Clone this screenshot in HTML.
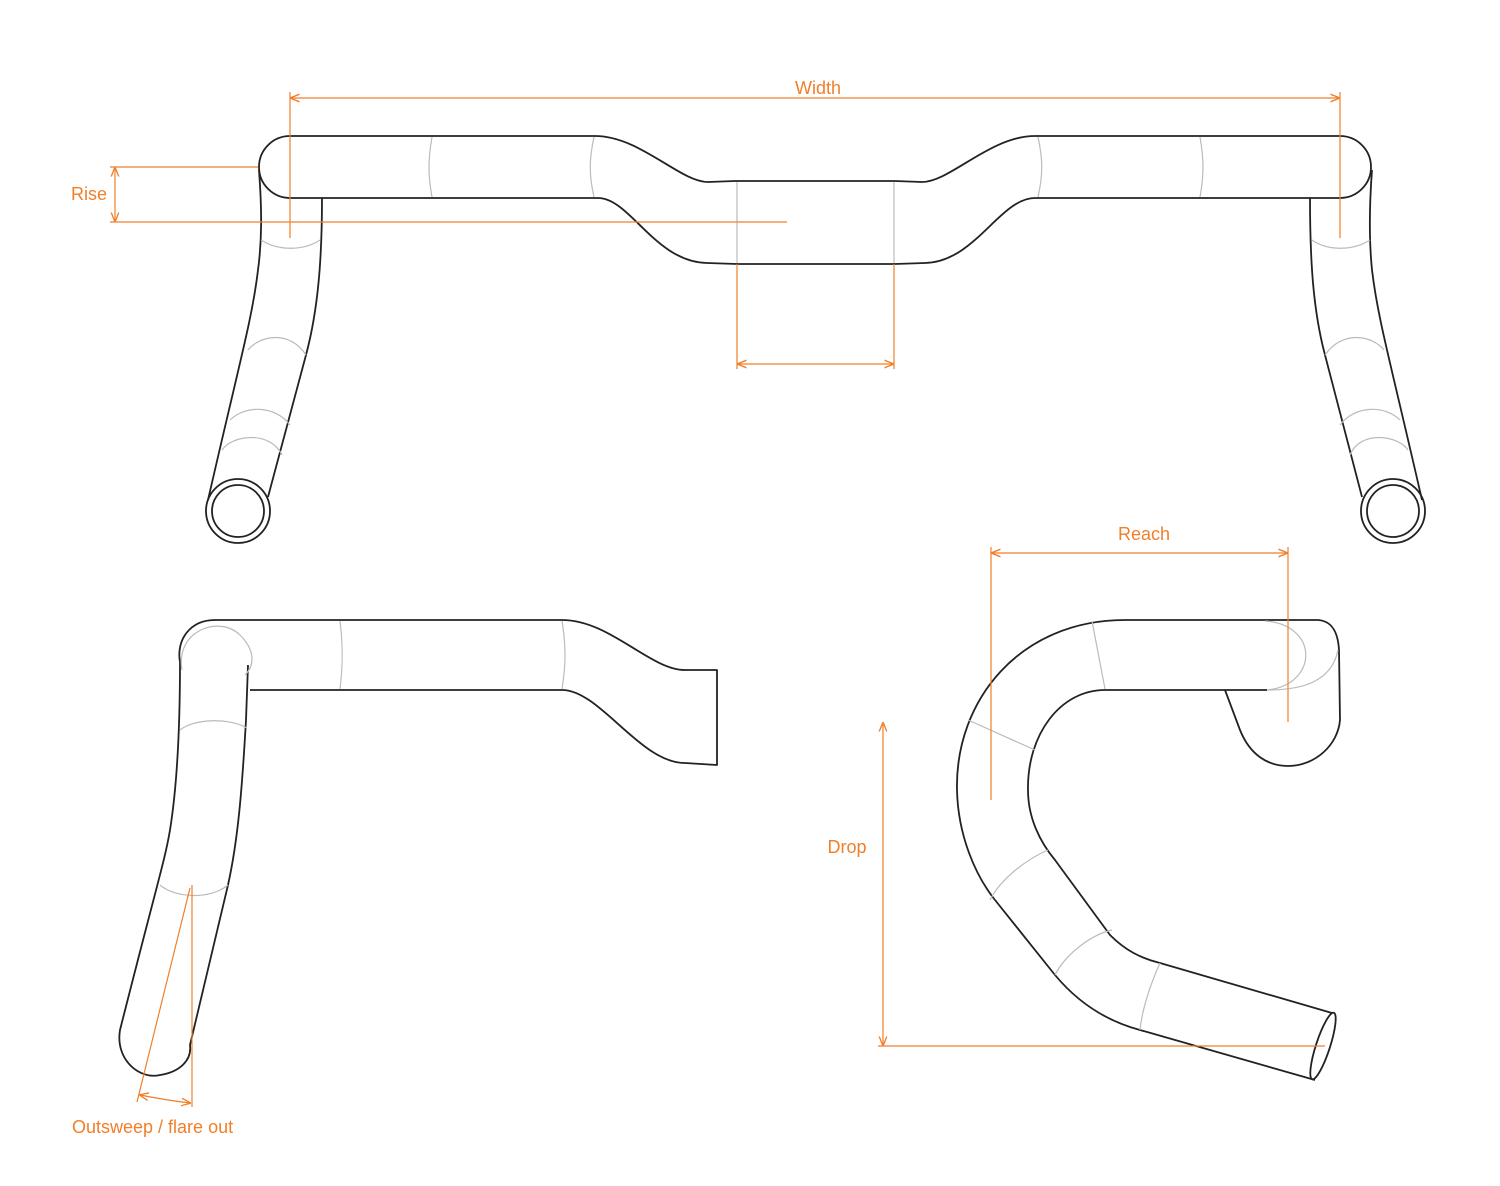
<!DOCTYPE html>
<html><head><meta charset="utf-8"><style>
html,body{margin:0;padding:0;background:#fff;}
svg{display:block;}
text{font-family:"Liberation Sans",sans-serif;font-size:18px;fill:#f07f2a;}
.k{fill:none;stroke:#222;stroke-width:1.8;stroke-linejoin:round;}
.g{fill:none;stroke:#bbb;stroke-width:1.2;}
.o{fill:none;stroke:#f07f2a;stroke-width:1.2;}
</style></head><body>
<svg width="1500" height="1186" viewBox="0 0 1500 1186" xmlns="http://www.w3.org/2000/svg">
<defs><marker id="a" viewBox="0 0 10 10" refX="9" refY="5" markerWidth="8" markerHeight="8" orient="auto-start-reverse"><path d="M0,1 L10,5 L0,9" fill="none" stroke="#f07f2a" stroke-width="1.4"/></marker></defs>

<!-- TOP VIEW -->
<path class="k" d="M290,136 L595,136 C640,136 680,182 708,182 L735,181 L895,181 L922,182 C950,182 990,136 1035,136 L1340,136 A31,31 0 0 1 1340,198 L1035,198 C1000,198 975,262 925,263 L895,264 L737,264 L707,263 C655,262 630,198 598,198 L290,198 A31,31 0 0 1 290,136 Z"/>
<path class="k" d="M259,170 C262,210 262,240 258,270 C252,320 240,360 208,500"/>
<path class="k" d="M322,198 C322,260 318,310 306,355 L268,497"/>
<circle class="k" cx="238" cy="511" r="32"/><circle class="k" cx="238" cy="511" r="26"/>
<path class="k" d="M1372,170 C1369,210 1369,240 1372,270 C1378,320 1390,360 1422,500"/>
<path class="k" d="M1310,198 C1310,260 1313,310 1325,355 L1362,497"/>
<circle class="k" cx="1393" cy="511" r="32"/><circle class="k" cx="1393" cy="511" r="26"/>
<path class="g" d="M432,137 C428,160 428,175 432,197 M594,137 C589,160 589,175 594,197 M1038,137 C1043,160 1043,175 1038,197 M1200,137 C1204,160 1204,175 1200,197 M737,182 L737,263 M894,182 L894,263"/>
<path class="g" d="M261,240 C280,252 305,250 320,240 M248,350 C260,335 290,330 306,355 M230,420 C245,405 275,405 290,425 M222,450 C232,435 270,430 282,455"/>
<path class="g" d="M1370,240 C1351,252 1326,250 1312,240 M1384,350 C1372,335 1342,330 1325,355 M1400,420 C1385,405 1355,405 1340,425 M1408,450 C1398,435 1360,430 1350,455"/>
<!-- orange top -->
<path class="o" d="M290,92 L290,238 M1340,92 L1340,238"/>
<line class="o" x1="291" y1="98" x2="1339" y2="98" marker-start="url(#a)" marker-end="url(#a)"/>
<text x="818" y="94" text-anchor="middle">Width</text>
<path class="o" d="M110,167 L258,167 M110,222 L787,222"/>
<line class="o" x1="115" y1="168" x2="115" y2="221" marker-start="url(#a)" marker-end="url(#a)"/>
<text x="89" y="200" text-anchor="middle">Rise</text>
<path class="o" d="M737,264 L737,369 M894,264 L894,369"/>
<line class="o" x1="738" y1="364" x2="893" y2="364" marker-start="url(#a)" marker-end="url(#a)"/>

<!-- BOTTOM LEFT -->
<path class="k" d="M215,620 L562,620 C610,620 650,670 685,670 L717,670 L717,765 L685,763 C640,763 600,690 562,690 L250,690"/>
<path class="k" d="M215,620 C190,620 176,640 180,662 C180,720 178,780 170,830 C165,860 158,880 120,1030 C115,1060 140,1080 160,1075 C180,1072 192,1060 190,1045 L228,885 C238,840 242,790 246,720 L248,665"/>
<path class="g" d="M182,670 C175,630 220,615 240,635 C255,650 255,665 245,675 M180,730 C195,718 230,718 247,728 M340,621 C343,645 343,665 340,689 M562,621 C566,645 566,665 562,689 M160,885 C175,898 210,900 228,885"/>
<path class="o" d="M192,885 L192,1107 M190,888 L137,1102"/>
<path class="o" d="M140,1095 Q165,1100 190,1103" marker-start="url(#a)" marker-end="url(#a)"/>
<text x="72" y="1133">Outsweep / flare out</text>

<!-- BOTTOM RIGHT -->
<path class="k" d="M1125,620 L1318,620 C1332,621 1338,632 1339,650 L1340,720 C1338,745 1315,766 1288,766 C1268,766 1250,755 1240,730 L1225,690 M1267,690 L1105,690 C1060,690 1027,735 1028,790 C1028,818 1040,842 1055,860 L1110,935 C1125,950 1140,958 1160,963 L1332,1013"/>
<path class="k" d="M1125,620 C1020,620 955,700 957,790 C958,835 975,875 995,900 L1055,975 C1080,1005 1110,1022 1140,1030 L1315,1080"/>
<ellipse class="k" cx="1323" cy="1046" rx="7" ry="35" transform="rotate(18 1323 1046)"/>
<path class="g" d="M1092,621 L1105,689 M1265,621 C1320,625 1318,685 1267,690 M1268,690 C1305,690 1332,680 1338,650 M968,720 L1035,750 M990,900 C1000,880 1025,860 1048,850 M1055,975 C1065,955 1090,935 1112,930 M1140,1030 C1142,1010 1150,985 1160,963"/>
<path class="o" d="M991,547 L991,800 M1288,547 L1288,722"/>
<line class="o" x1="992" y1="553" x2="1287" y2="553" marker-start="url(#a)" marker-end="url(#a)"/>
<text x="1144" y="540" text-anchor="middle">Reach</text>
<path class="o" d="M878,1046 L1325,1046"/>
<line class="o" x1="883" y1="723" x2="883" y2="1045" marker-start="url(#a)" marker-end="url(#a)"/>
<text x="847" y="853" text-anchor="middle">Drop</text>
</svg>
</body></html>
